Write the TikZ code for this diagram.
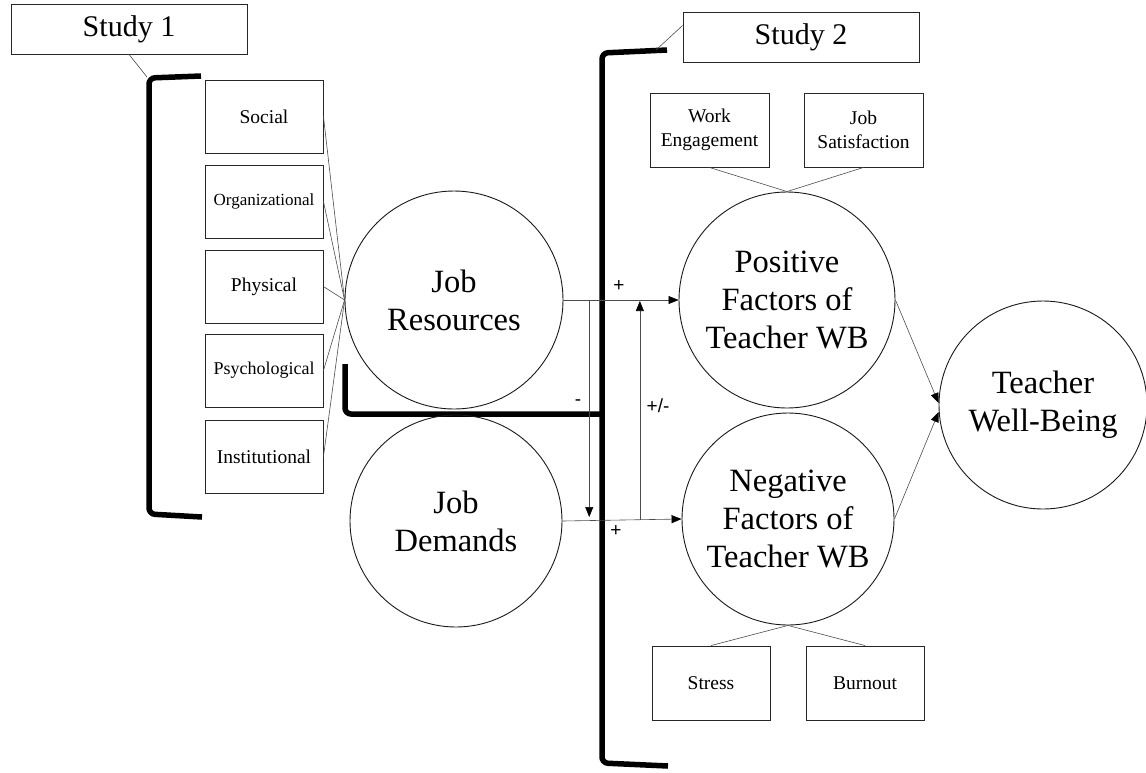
\documentclass[tikz,border=0pt]{standalone}
\usepackage{fontspec}
\setmainfont{Liberation Serif}
\newfontfamily\signfont{Liberation Sans}
\usetikzlibrary{arrows.meta}
\begin{document}
\begin{tikzpicture}[x=1pt,y=-1pt,
  smallbox/.style={draw=black!85, line width=0.9pt, minimum width=118pt, minimum height=73pt, inner sep=0pt, align=center, font=\fontsize{19.5}{24}\selectfont},
  studybox/.style={draw=black!85, line width=0.9pt, minimum width=236pt, minimum height=50pt, inner sep=0pt, font=\fontsize{30}{36}\selectfont},
  bigcirc/.style={circle, draw=black!90, line width=0.9pt, inner sep=0pt, align=center, font=\fontsize{32.5}{38}\selectfont},
  thinline/.style={draw=black!70, line width=0.6pt},
  arr/.style={draw=black!70, line width=0.6pt, -{Triangle[length=10pt,width=8pt,color=black,fill=black]}},
  bracket/.style={line width=5.5pt, rounded corners=6pt},
  sign/.style={font=\signfont\fontsize{19}{22}\selectfont, inner sep=0pt}
]
\useasboundingbox (0,0) rectangle (1146,772);

% Study boxes
\node[studybox] (s1) at (129,29) {Study 1};
\node[studybox] (s2) at (801,37.5) {Study 2};

% brackets
\draw[bracket] (201,76) -- (149,78) -- (149,514) -- (202,517);
\draw[bracket] (667,50) -- (602,53) -- (602,763) -- (668,766);
\draw[bracket] (602,414) -- (345,414) -- (345,364);
\coordinate (b1) at (147,77);
\coordinate (b2) at (656,50);
\draw[thinline] (s1.south) -- (b1);
\draw[thinline] ([yshift=12pt]s2.west) -- (b2);

% left boxes
\node[smallbox] (social) at (264,116.5) {Social};
\node[smallbox, font=\fontsize{17}{21}\selectfont] (org) at (264,201.5) {Organizational};
\node[smallbox] (phys) at (264,286.5) {Physical};
\node[smallbox, font=\fontsize{18}{22}\selectfont] (psych) at (264,370.5) {Psychological};
\node[smallbox] (inst) at (264,456.5) {Institutional};

% circles
\node[bigcirc, minimum size=218pt] (jr) at (454,300) {Job\\Resources};
\node[bigcirc, minimum size=212pt] (jd) at (456,521) {Job\\Demands};
\node[bigcirc, minimum size=216pt] (pos) at (787,300) {Positive\\Factors of\\Teacher WB};
\node[bigcirc, minimum size=212pt] (neg) at (788,519) {Negative\\Factors of\\Teacher WB};
\node[bigcirc, minimum size=208pt] (twb) at (1043,405) {Teacher\\Well-Being};

% right boxes
\node[smallbox, minimum width=119pt, minimum height=74pt] (we) at (709.5,130) {Work\\Engagement};
\node[smallbox, minimum width=119pt, minimum height=74pt] (js) at (863.5,130) {Job\\Satisfaction};
\node[smallbox, minimum height=74pt] (stress) at (711,683) {Stress};
\node[smallbox, minimum height=74pt] (burn) at (865,683) {Burnout};

% left connectors
\foreach \b in {social,org,phys,psych,inst}
  \draw[thinline] (\b.east) -- (jr.west);

% indicator connectors
\draw[thinline] (we.south) -- (pos.north);
\draw[thinline] (js.south) -- (pos.north);
\draw[thinline] (stress.north) -- (neg.south);
\draw[thinline] (burn.north) -- (neg.south);

% main arrows
\draw[arr] (jr.east) -- (pos.west);
\draw[arr] (jd.east) -- (neg.west);
\draw[arr] (pos.east) -- ([yshift=2pt]twb.west);
\draw[arr] (neg.east) -- ([yshift=-7pt]twb.west);

\path (jr.east) -- (pos.west) coordinate[pos=0.224] (mA);
\path (jd.east) -- (neg.west) coordinate[pos=0.65] (mC);
\draw[arr, shorten >=4pt] (mA) -- (mA |- jd.east);
\draw[arr, shorten >=1pt] (mC) -- (mC |- pos.west);

% signs
\node[sign] (p1) at (619,286) {+};
\node[sign] (m1) at (578,403) {-};
\node[sign] (pm) at (658,406) {+/-};
\node[sign] (p2) at (616,531) {+};
\end{tikzpicture}
\end{document}
